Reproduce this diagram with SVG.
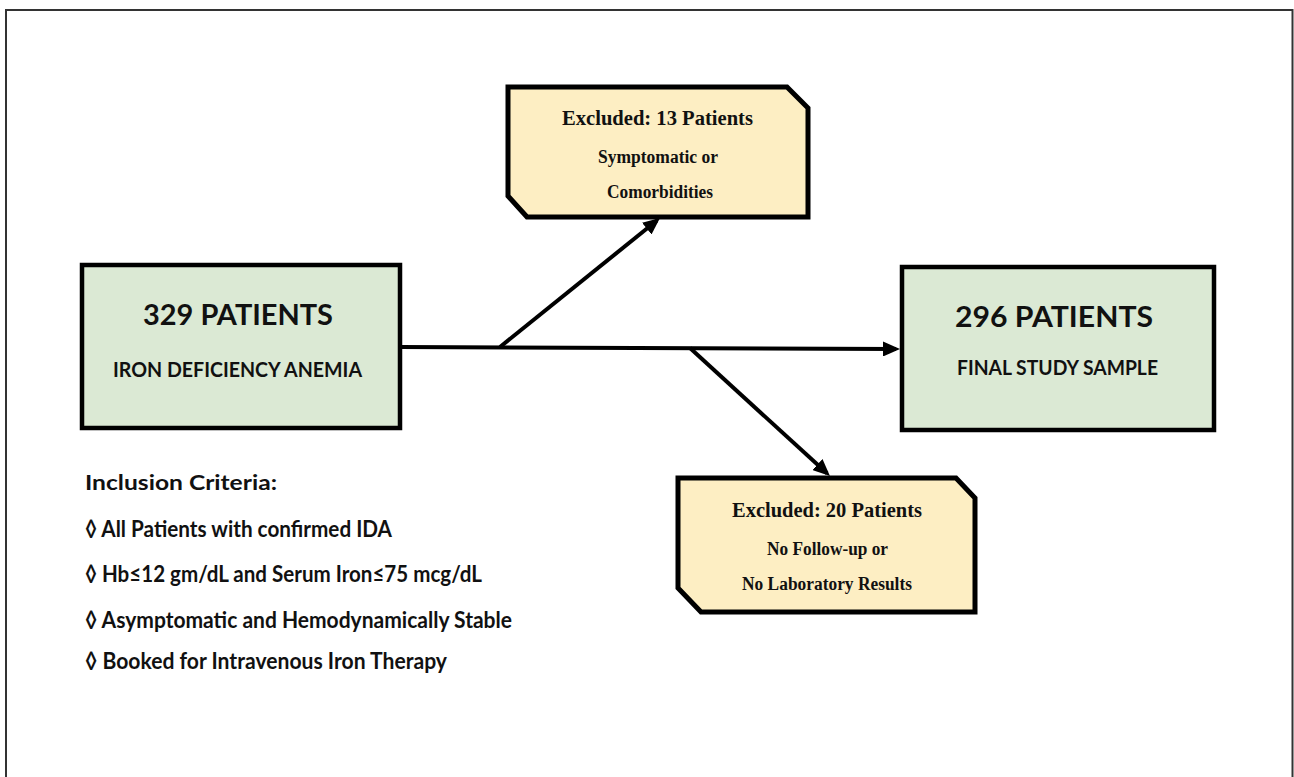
<svg xmlns="http://www.w3.org/2000/svg" width="1294" height="777" viewBox="0 0 1294 777">
  <style>
    .frame { fill: #ffffff; stroke: #333333; stroke-width: 2; }
    .green { fill: #dbe9d4; stroke: #000000; stroke-width: 4.5; }
    .yellow { fill: #fdeec3; stroke: #000000; stroke-width: 5; stroke-linejoin: miter; }
    .big { font-family: Lato, "Open Sans", "Liberation Sans", sans-serif; font-weight: bold; font-size: 29px; fill: #111; text-anchor: middle; }
    .sub { font-family: Lato, "Open Sans", "Liberation Sans", sans-serif; font-weight: bold; font-size: 21px; fill: #111; text-anchor: middle; }
    .crit { font-family: Lato, "Open Sans", "Liberation Sans", sans-serif; font-weight: bold; font-size: 23px; fill: #111; }
    .head { font-family: Lato, "Open Sans", "Liberation Sans", sans-serif; font-weight: bold; font-size: 21px; fill: #111; }
    .ytitle { font-family: "Liberation Serif", "Times New Roman", serif; font-weight: bold; font-size: 21px; fill: #111; text-anchor: middle; }
    .ytext { font-family: "Liberation Serif", "Times New Roman", serif; font-weight: bold; font-size: 18px; fill: #111; text-anchor: middle; }
    .conn { fill: none; stroke: #000000; stroke-width: 4; }
  </style>
  <defs>
    <marker id="arrow" markerUnits="userSpaceOnUse" markerWidth="17" markerHeight="15" refX="13" refY="7.5" orient="auto">
      <path d="M0,0 L17,7.5 L0,15 Z" fill="#000000"/>
    </marker>
  </defs>

  <rect class="frame" x="6" y="10" width="1286.5" height="800"/>

  <g id="connectors">
    <path class="conn" d="M400,347 L896,349" marker-end="url(#arrow)"/>
    <path class="conn" d="M500,347 L656.9,220.5" marker-end="url(#arrow)"/>
    <path class="conn" d="M690,348 L827,473.3" marker-end="url(#arrow)"/>
  </g>

  <g id="node-329">
    <rect class="green" x="82" y="265" width="318" height="163"/>
    <text class="big" x="238" y="325" textLength="190" lengthAdjust="spacingAndGlyphs">329 PATIENTS</text>
    <text class="sub" x="237.5" y="377" textLength="249" lengthAdjust="spacingAndGlyphs">IRON DEFICIENCY ANEMIA</text>
  </g>

  <g id="node-296">
    <rect class="green" x="902" y="267" width="312" height="163"/>
    <text class="big" x="1054" y="327" textLength="198" lengthAdjust="spacingAndGlyphs">296 PATIENTS</text>
    <text class="sub" x="1057.5" y="375" textLength="201" lengthAdjust="spacingAndGlyphs">FINAL STUDY SAMPLE</text>
  </g>

  <g id="node-excluded-13">
    <path class="yellow" d="M508,87 L787,87 L808,108 L808,217 L527,217 L508,196 Z"/>
    <text class="ytitle" x="657.5" y="125" textLength="191" lengthAdjust="spacingAndGlyphs">Excluded: 13 Patients</text>
    <text class="ytext" x="658" y="163" textLength="120" lengthAdjust="spacingAndGlyphs">Symptomatic or</text>
    <text class="ytext" x="660" y="198" textLength="106" lengthAdjust="spacingAndGlyphs">Comorbidities</text>
  </g>

  <g id="node-excluded-20">
    <path class="yellow" d="M678,478 L956,478 L975,498 L975,612 L701,612 L678,588 Z"/>
    <text class="ytitle" x="827" y="517" textLength="190" lengthAdjust="spacingAndGlyphs">Excluded: 20 Patients</text>
    <text class="ytext" x="827.5" y="555" textLength="121" lengthAdjust="spacingAndGlyphs">No Follow-up or</text>
    <text class="ytext" x="827" y="590" textLength="170" lengthAdjust="spacingAndGlyphs">No Laboratory Results</text>
  </g>

  <g id="inclusion-criteria">
    <text class="head" x="85" y="490" textLength="192" lengthAdjust="spacingAndGlyphs">Inclusion Criteria:</text>
    <text class="crit" x="85" y="537" textLength="307" lengthAdjust="spacingAndGlyphs">◊ All Patients with confirmed IDA</text>
    <text class="crit" x="85" y="582" textLength="397" lengthAdjust="spacingAndGlyphs">◊ Hb≤12 gm/dL and Serum Iron≤75 mcg/dL</text>
    <text class="crit" x="85" y="628" textLength="427" lengthAdjust="spacingAndGlyphs">◊ Asymptomatic and Hemodynamically Stable</text>
    <text class="crit" x="85" y="669" textLength="362" lengthAdjust="spacingAndGlyphs">◊ Booked for Intravenous Iron Therapy</text>
  </g>
</svg>
